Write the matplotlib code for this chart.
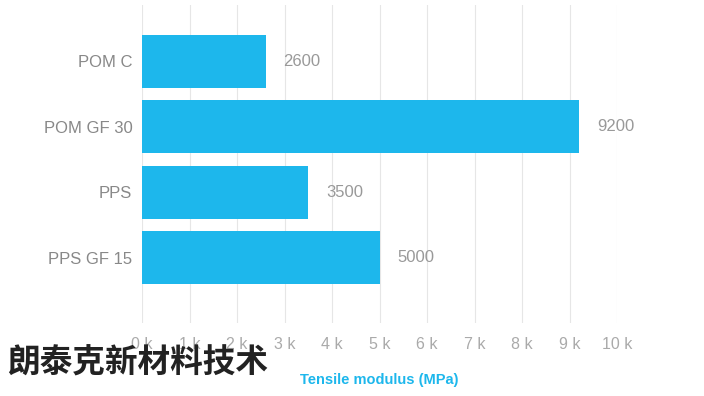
import matplotlib
matplotlib.use('Agg')
import matplotlib.pyplot as plt

materials = ['POM C', 'POM GF 30', 'PPS', 'PPS GF 15']
modulus = [2600, 9200, 3500, 5000]
ticks = [0, 1000, 2000, 3000, 4000, 5000, 6000, 7000, 8000, 9000, 10000]
tick_labels = ['%d k' % (t // 1000) for t in ticks]

plt.rcParams['font.family'] = ['Liberation Sans', 'DejaVu Sans']

fig = plt.figure(figsize=(7.04, 3.96), dpi=100)
ax = fig.add_axes([142 / 704, 1 - 323 / 396, 475 / 704, 318 / 396])

pos = list(range(len(materials)))
ax.barh(pos, modulus, height=0.81, color='#1db7ec', zorder=2)
for p, v in zip(pos, modulus):
    ax.text(v + 380, p, str(v), va='center', ha='left', fontsize=12, color='#999999')

ax.set_ylim(4.0, -0.86)
ax.set_xlim(0, 10000)
ax.set_yticks(pos)
ax.set_yticklabels(materials, fontsize=12, color='#888888')
ax.tick_params(axis='y', length=0, pad=7)
ax.set_xticks(ticks)
ax.set_xticklabels(tick_labels, fontsize=11.5, color='#aaaaaa')
ax.tick_params(axis='x', length=0, pad=10)
ax.grid(axis='x', color='#e6e6e6', linewidth=0.8, zorder=0)
for s in ax.spines.values():
    s.set_visible(False)

ax.set_xlabel('Tensile modulus (MPa)', fontsize=10.5, color='#1db7ec',
              fontweight='bold', labelpad=15)

fig.text(7 / 704, 1 - 363 / 396, '朗泰克新材料技术', fontsize=23.5, fontweight='bold',
         color='#222222', va='center', ha='left',
         family=['Noto Sans CJK SC', 'DejaVu Sans'])

fig.savefig('out.png', dpi=100)
